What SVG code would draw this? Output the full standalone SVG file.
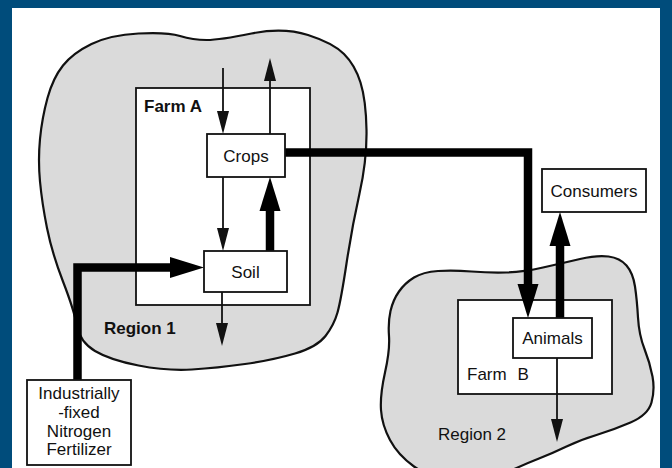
<svg xmlns="http://www.w3.org/2000/svg" width="672" height="468" viewBox="0 0 672 468">
<style>
.region{fill:#dadada;stroke:#111;stroke-width:2.2;stroke-linejoin:round}
.farm{fill:#fff;stroke:#111;stroke-width:1.8}
.box{fill:#fff;stroke:#111;stroke-width:1.8}
.thin{fill:none;stroke:#111;stroke-width:1.8}
.thick{fill:none;stroke:#000;stroke-width:8.5;stroke-linejoin:miter}
.lbl{font-family:"Liberation Sans",Arial,sans-serif;font-size:17px;fill:#111}
.ctr{text-anchor:middle}
.b{font-weight:bold}
</style>
<defs>
<marker id="ah" markerUnits="userSpaceOnUse" markerWidth="24" markerHeight="12" refX="0" refY="6" orient="auto" overflow="visible">
<path d="M0,0 L23,6 L0,12 Z" fill="#111"/>
</marker>
<marker id="AH" markerUnits="userSpaceOnUse" markerWidth="34" markerHeight="21" refX="0" refY="10.5" orient="auto" overflow="visible">
<path d="M0,0 L34,10.5 L0,21 Z" fill="#000"/>
</marker>
</defs>
<rect x="0" y="0" width="672" height="468" fill="#004c7b"/>
<rect x="12" y="8" width="648" height="460" fill="#fff"/>

<g id="region1">
<path class="region" d="M 40 139 Q 42 118 47.5 98 Q 53 78 63 65.5 Q 73 53 91.5 44 Q 110 35 138.5 33.5 Q 167 32 180 36 Q 193 40 206.5 40 Q 220 40 251.5 33.5 Q 283 27 308 35 Q 333 43 344 54 Q 355 65 360.5 82.5 Q 366 100 366.5 130 Q 367 160 359.5 193.5 Q 352 227 346.5 263.5 Q 341 300 337.5 312.5 Q 334 325 325.5 336 Q 317 347 295 353.5 Q 273 360 245 364 Q 217 368 192 369.5 Q 167 371 138.5 365.5 Q 110 360 95 351 Q 80 342 77 326 Q 74 310 63 281.5 Q 52 253 47 228 Q 42 203 40 181.5 Q 38 160 40 139 Z"/>
<text class="lbl b" x="104" y="334">Region 1</text>
</g>
<g id="region2">
<path class="region" d="M 390.5 311 Q 393 300 399 291.5 Q 405 283 414 277.5 Q 423 272 438 271 Q 453 270 471.5 271.5 Q 490 273 506.5 272.5 Q 523 272 543 267.5 Q 563 263 580 259 Q 597 255 608.5 256.5 Q 620 258 626.5 265.5 Q 633 273 635 286.5 Q 637 300 638 317.5 Q 639 335 644.5 349 Q 650 363 652.5 376.5 Q 655 390 651.5 402.5 Q 648 415 630.5 422.5 Q 613 430 596.5 435 Q 580 440 566.5 446.5 Q 553 453 539 458.5 Q 525 464 510 471 Q 495 478 462.5 478 Q 430 478 414 466.5 Q 398 455 390 440 Q 382 425 381 410 Q 380 395 385 372.5 Q 390 350 389 336 Q 388 322 390.5 311 Z"/>
<text class="lbl" x="438" y="440">Region 2</text>
</g>
<g id="farmA">
<rect class="farm" x="136" y="88" width="174" height="217"/>
<text class="lbl b" x="144" y="112" font-size="16">Farm A</text>
</g>
<g id="farmB">
<rect class="farm" x="458" y="300" width="154" height="94"/>
<text class="lbl" x="467" y="380" word-spacing="6">Farm B</text>
</g>

<g id="connectors">
<path class="thin" d="M223 68 V111" marker-end="url(#ah)"/>
<path class="thin" d="M270 134 V81" marker-end="url(#ah)"/>
<path class="thin" d="M223 177 V228" marker-end="url(#ah)"/>
<path class="thin" d="M222 292 V323" marker-end="url(#ah)"/>
<path class="thin" d="M557 358 V419" marker-end="url(#ah)"/>
<path class="thick" d="M270 251 V211" marker-end="url(#AH)"/>
<path class="thick" d="M77.5 380 V267.5 H170" marker-end="url(#AH)"/>
<path class="thick" d="M285 152.5 H528 V284" marker-end="url(#AH)"/>
<path class="thick" d="M560 318 V246" marker-end="url(#AH)"/>
</g>

<g id="crops">
<rect class="box" x="207" y="134" width="78" height="43"/>
<text class="lbl ctr" x="246" y="161.5">Crops</text>
</g>
<g id="soil">
<rect class="box" x="204" y="251" width="83" height="41"/>
<text class="lbl ctr" x="245.5" y="277.5">Soil</text>
</g>
<g id="consumers">
<rect class="box" x="542" y="169" width="104" height="43"/>
<text class="lbl ctr" x="594" y="196.5">Consumers</text>
</g>
<g id="animals">
<rect class="box" x="513" y="318" width="79" height="40"/>
<text class="lbl ctr" x="552.5" y="344">Animals</text>
</g>
<g id="fertilizer">
<rect class="box" x="27" y="380" width="104" height="85"/>
<text class="lbl ctr" x="79" y="399">Industrially</text>
<text class="lbl ctr" x="79" y="418">-fixed</text>
<text class="lbl ctr" x="79" y="437">Nitrogen</text>
<text class="lbl ctr" x="79" y="455">Fertilizer</text>
</g>
</svg>
